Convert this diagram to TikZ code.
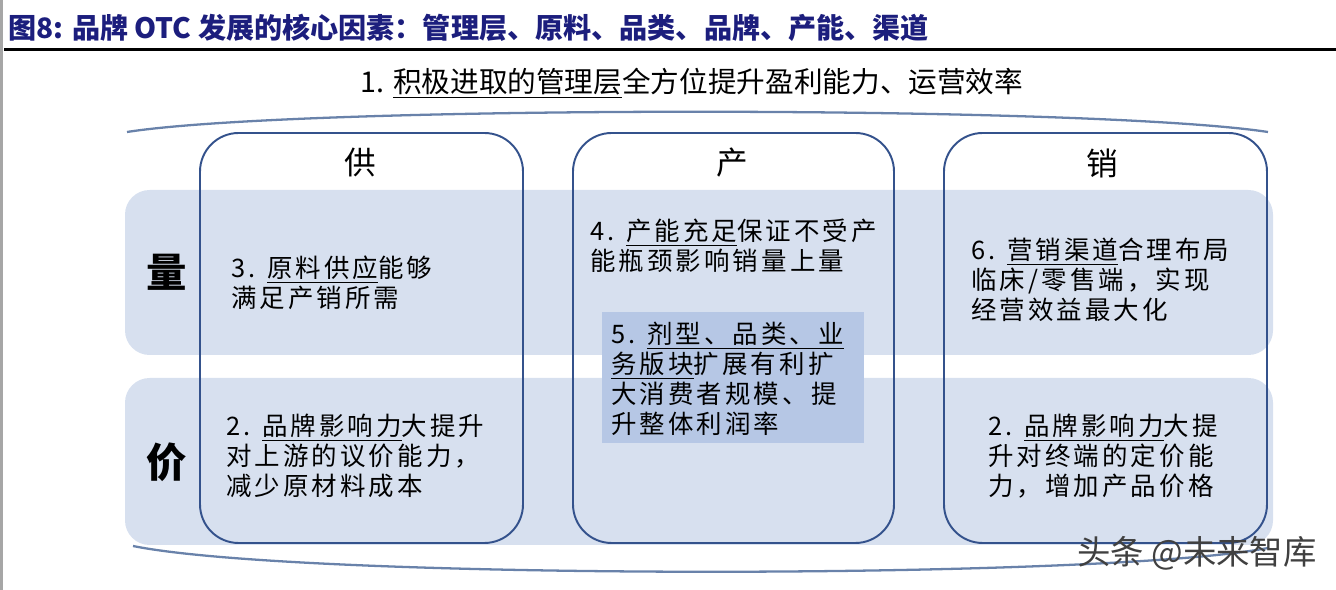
\documentclass[tikz,border=0pt]{standalone}
\usepackage{fontspec}
\newfontfamily\cjk{Noto Sans CJK SC}
\newfontfamily\cjkwide[LetterSpace=12]{Noto Sans CJK SC}
\definecolor{bandblue}{RGB}{215,224,239}
\definecolor{boxblue}{RGB}{182,199,229}
\definecolor{colline}{RGB}{52,82,140}
\definecolor{arcline}{RGB}{105,130,170}
\definecolor{titleblue}{RGB}{28,30,125}
\tikzset{
 band/.style={fill=bandblue, rounded corners=14pt},
 column/.style={draw=colline, line width=1.1pt, rounded corners=22pt},
 arcstroke/.style={draw=arcline, line width=1.3pt},
 txt/.style={anchor=west, align=left, inner sep=0pt, font=\cjkwide\fontsize{14.5}{17}\selectfont},
 head/.style={font=\cjk\fontsize{18}{20}\selectfont},
 rowlabel/.style={font=\cjk\bfseries\fontsize{23}{25}\selectfont},
}
\begin{document}
\begin{tikzpicture}[x=0.02cm, y=-0.02cm]
 \useasboundingbox (0,0) rectangle (1336,590);
 \fill[black!35] (0,0) rectangle (3,590);
 \node[anchor=west, inner sep=0pt, text=titleblue, font=\cjk\bfseries\fontsize{16}{18}\selectfont] (title) at (8,28) {图8: 品牌 OTC 发展的核心因素：管理层、原料、品类、品牌、产能、渠道};
 \draw[line width=1.7pt] (4,50) -- (1336,50);
 \node[font=\cjk\fontsize{16.3}{18}\selectfont] (mgmt) at (692,83) {1. \underline{积极进取的管理层}全方位提升盈利能力、运营效率};
 \fill[band] (125,190) rectangle (1273,355);
 \fill[band] (125,378) rectangle (1273,545);
 \fill[boxblue] (602,312) rectangle (864,443);
 \draw[column] (200,133) rectangle (523,543);
 \draw[column] (573,133) rectangle (894,543);
 \draw[column] (944,133) rectangle (1267,543);
 \draw[arcstroke] (127,132) .. controls (300,105) and (1090,105) .. (1268,132);
 \draw[arcstroke] (133,546) .. controls (300,580) and (1100,580) .. (1268,548);
 \node[head] (supply) at (360,163) {供};
 \node[head] (produce) at (732,163) {产};
 \node[head] (sell) at (1102,163) {销};
 \node[rowlabel] (volume) at (167,272) {量};
 \node[rowlabel] (price) at (167,462) {价};
 \node[txt] (rawmat) at (231,283) {3. \underline{原料供应}能够\\满足产销所需};
 \node[txt] (brandup) at (226,456) {2. \underline{品牌影响力}大提升\\对上游的议价能力，\\减少原材料成本};
 \node[txt] (capacity) at (590,246) {4. \underline{产能充足}保证不受产\\能瓶颈影响销量上量};
 \node[txt] (category) at (611,379) {5. \underline{剂型、品类、业}\\\underline{务版块}扩展有利扩\\大消费者规模、提\\升整体利润率};
 \node[txt] (channel) at (971,280) {6. \underline{营销渠道}合理布局\\临床/零售端，实现\\经营效益最大化};
 \node[txt] (branddown) at (988,456) {2. \underline{品牌影响力}大提\\升对终端的定价能\\力，增加产品价格};
 \node[text=black!75, font=\cjk\fontsize{19}{21}\selectfont] (mark) at (1197,553) {头条 @未来智库};
\end{tikzpicture}
\end{document}
